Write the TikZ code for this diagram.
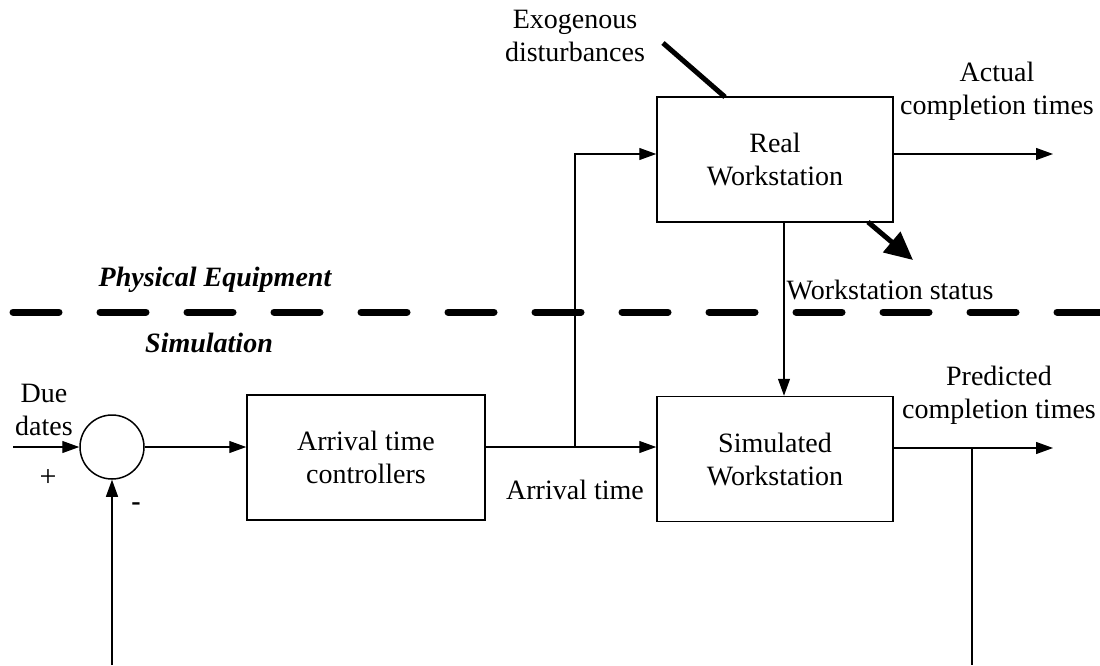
\documentclass[tikz,border=0pt]{standalone}
\usepackage{fontspec}
\setmainfont{Liberation Serif}
\usetikzlibrary{arrows.meta}
\begin{document}
\begin{tikzpicture}[x=1pt,y=-1pt,
  line width=1.2pt,
  txt/.style={align=center,inner sep=0pt,font=\fontsize{28}{33}\selectfont},
  block/.style={draw,line width=1.5pt,minimum width=236pt,minimum height=125pt,txt},
  arr/.style={-{Triangle[length=17pt,width=12pt]}},
  bigarr/.style={line width=5pt,-{Triangle[length=28pt,width=26pt]}},
  zone/.style={inner sep=0pt,font=\fontsize{28}{33}\selectfont\bfseries\itshape}]
\useasboundingbox (0,0) rectangle (1100,665);

% blocks
\node[block] (real) at (775,159.5) {Real\\Workstation};
\node[block] (sim) at (775,459) {Simulated\\Workstation};
\node[block,minimum width=238pt] (arrival) at (366,457.5) {Arrival time\\controllers};
\node[draw,circle,line width=1.5pt,minimum size=64pt,inner sep=0pt] (sum) at (112,447) {};

% separation line between the two layers
\coordinate (sepL) at (13,312);
\coordinate (sepR) at (1100,312);
\draw[line width=7pt,line cap=round,dash pattern=on 46pt off 41pt] (sepL) -- (sepR);
\node[zone] (phys) at (215,280) {Physical Equipment};
\node[zone] (simlab) at (209,343) {Simulation};

% free ends and branch points
\coordinate (rowR) at (0,154);
\coordinate (rowP) at (0,448);
\coordinate (inp) at (13,447);
\coordinate (split) at (575,447);
\coordinate (actend) at (1053,154);
\coordinate (predend) at (1053,448);
\coordinate (fbtop) at (972,448);
\coordinate (fbbot) at (972,665);
\coordinate (fbin) at (112,665);
\coordinate (statx) at (784,0);
\coordinate (exo) at (663,43);
\coordinate (exoend) at (725,97);
\coordinate (distA) at (868,222);
\coordinate (distB) at (913,260);

% signal flow
\draw[arr] (inp) -- (sum.west);
\draw[arr] (sum.east) -- (arrival.west |- sum.east);
\draw[arr] (arrival.east |- sum.east) -- (sim.west |- sum.east);
\draw[arr] (split) |- (real.west |- rowR);
\draw[arr] (real.east |- rowR) -- (actend);
\draw[arr] (real.south -| statx) -- (sim.north -| statx);
\draw[arr] (sim.east |- rowP) -- (predend);
\draw (fbtop) -- (fbbot);
\draw[arr] (fbin) -- (sum.south);

% disturbances
\draw[line width=5pt] (exo) -- (exoend);
\draw[bigarr] (distA) -- (distB);

% labels
\node[txt] (exolab) at (575,36) {Exogenous\\disturbances};
\node[txt] (actlab) at (997,91) {Actual\\completion times};
\node[txt,anchor=west] (statlab) at (786,290) {Workstation status};
\node[txt] (predlab) at (999,395) {Predicted\\completion times};
\node[txt] (duelab) at (44,410) {Due\\dates};
\node[txt] (arrlab) at (575,490) {Arrival time};
\node[inner sep=0pt,font=\fontsize{30}{34}\selectfont\mdseries] (plus) at (48,478) {+};
\node[inner sep=0pt,font=\fontsize{28}{33}\selectfont\bfseries] (minus) at (136,507) {-};
\end{tikzpicture}
\end{document}
